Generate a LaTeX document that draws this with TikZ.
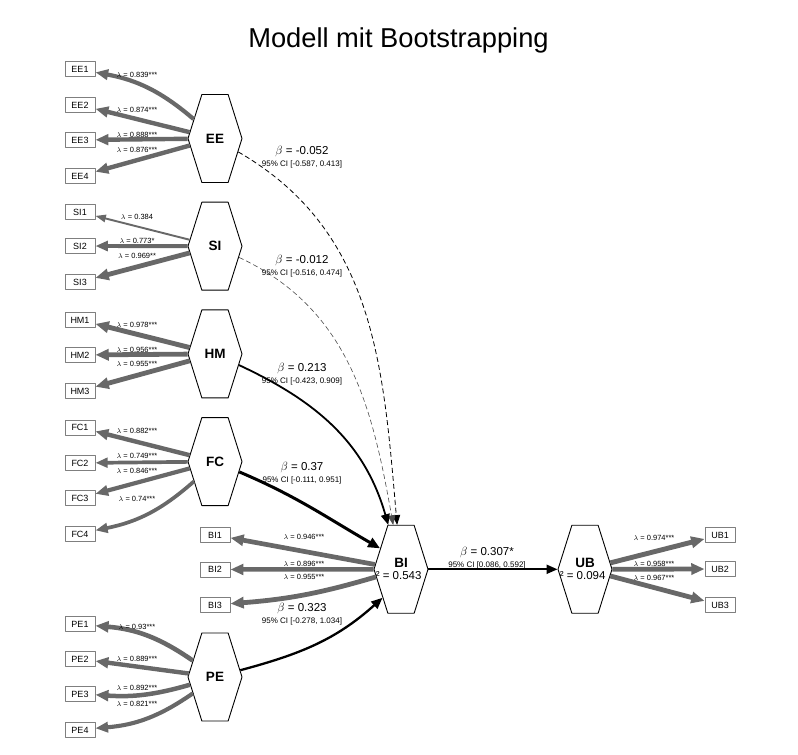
\documentclass[tikz,border=0pt]{standalone}
\usepackage{fontspec}
\setmainfont{Liberation Sans}
\usetikzlibrary{arrows.meta,shapes.symbols}
\definecolor{loadgray}{HTML}{686868}
\definecolor{itemgray}{HTML}{7F7F7F}
\tikzset{
  latent/.style={shape=signal,signal to=east and west,signal pointer angle=145,
    draw,fill=white,line width=0.9pt,minimum width=54pt,minimum height=88pt,
    inner sep=0pt,font=\fontsize{13.5}{15}\selectfont\bfseries},
  endo/.style 2 args={latent,path picture={
    \node[font=\fontsize{13.5}{15}\selectfont\bfseries] at ([yshift=6pt]path picture bounding box.center) {#1};
    \node[font=\fontsize{11.5}{13}\selectfont\mdseries] at ([xshift=-6.5pt,yshift=-6pt]path picture bounding box.center) {R² = #2};}},
  item/.style={draw=itemgray,fill=white,line width=0.9pt,minimum width=30pt,
    minimum height=15pt,inner sep=0pt,font=\fontsize{9}{10}\selectfont},
  loading/.style={draw=loadgray,line width=#1,-{Triangle[length=8.5pt 1,width=5pt 1.25]}},
  effect/.style={line width=#1,-{Triangle[length=9pt 1,width=7pt 1]}},
  lam/.style={font=\fontsize{7.5}{8}\selectfont},
  coef/.style={align=center,font=\fontsize{11.5}{12}\selectfont}
}

\begin{document}
\begin{tikzpicture}[x=1pt,y=1pt,line join=round]
  \useasboundingbox (0,0) rectangle (798,755);
  \node[anchor=base,font=\fontsize{27.3}{30}\selectfont] (title) at (398.5,707) {Modell mit Bootstrapping};

  \node[latent] (EE) at (215,616.5) {EE};
  \node[latent] (SI) at (215,508.8) {SI};
  \node[latent] (HM) at (215,401.1) {HM};
  \node[latent] (FC) at (215,293.4) {FC};
  \node[latent] (PE) at (215,78) {PE};
  \node[endo={BI}{0.543}] (BI) at (401,185.7) {};
  \node[endo={UB}{0.094}] (UB) at (585,185.7) {};

  \node[item] (EE1) at (80,686) {EE1};
  \node[item] (EE2) at (80,650) {EE2};
  \node[item] (EE3) at (80,615) {EE3};
  \node[item] (EE4) at (80,579) {EE4};
  \node[item] (SI1) at (80,543) {SI1};
  \node[item] (SI2) at (80,509) {SI2};
  \node[item] (SI3) at (80,473) {SI3};
  \node[item] (HM1) at (80,435) {HM1};
  \node[item] (HM2) at (80,400) {HM2};
  \node[item] (HM3) at (80,364) {HM3};
  \node[item] (FC1) at (80,327.5) {FC1};
  \node[item] (FC2) at (80,292) {FC2};
  \node[item] (FC3) at (80,257) {FC3};
  \node[item] (FC4) at (80,221) {FC4};
  \node[item] (PE1) at (80,131) {PE1};
  \node[item] (PE2) at (80,96) {PE2};
  \node[item] (PE3) at (80,61) {PE3};
  \node[item] (PE4) at (80,25) {PE4};
  \node[item] (BI1) at (215,220) {BI1};
  \node[item] (BI2) at (215,185.5) {BI2};
  \node[item] (BI3) at (215,150) {BI3};
  \node[item] (UB1) at (720,220) {UB1};
  \node[item] (UB2) at (720,186) {UB2};
  \node[item] (UB3) at (720,150) {UB3};

  \draw[loading=4.2] (EE) to[bend right=15] (EE1);
  \draw[loading=4.4] (EE) -- (EE2);
  \draw[loading=4.4] (EE) -- (EE3);
  \draw[loading=4.4] (EE) -- (EE4);
  \draw[loading=1.9] (SI) -- (SI1);
  \draw[loading=3.9] (SI) -- (SI2);
  \draw[loading=4.8] (SI) -- (SI3);
  \draw[loading=4.9] (HM) -- (HM1);
  \draw[loading=4.8] (HM) -- (HM2);
  \draw[loading=4.8] (HM) -- (HM3);
  \draw[loading=4.4] (FC) -- (FC1);
  \draw[loading=3.7] (FC) -- (FC2);
  \draw[loading=4.2] (FC) -- (FC3);
  \draw[loading=3.7] (FC) to[bend left=15] (FC4);
  \draw[loading=4.6] (PE) to[bend right=15] (PE1);
  \draw[loading=4.4] (PE) -- (PE2);
  \draw[loading=4.5] (PE) to[bend left=10] (PE3);
  \draw[loading=4.1] (PE) to[bend left=15] (PE4);
  \draw[loading=4.7] (BI) -- (BI1);
  \draw[loading=4.5] (BI) -- (BI2);
  \draw[loading=4.8] (BI) to[bend left=6] (BI3);
  \draw[loading=4.9] (UB) -- (UB1);
  \draw[loading=4.8] (UB) -- (UB2);
  \draw[loading=4.8] (UB) -- (UB3);

  \node[lam] (lEE1) at (137,680) {$\lambda$ = 0.839***};
  \node[lam] (lEE2) at (137,645) {$\lambda$ = 0.874***};
  \node[lam] (lEE3) at (137,620) {$\lambda$ = 0.888***};
  \node[lam] (lEE4) at (137,605) {$\lambda$ = 0.876***};
  \node[lam] (lSI1) at (137,538.5) {$\lambda$ = 0.384};
  \node[lam] (lSI2) at (137,514) {$\lambda$ = 0.773*};
  \node[lam] (lSI3) at (137,499) {$\lambda$ = 0.969**};
  \node[lam] (lHM1) at (137,430.5) {$\lambda$ = 0.978***};
  \node[lam] (lHM2) at (137,405.5) {$\lambda$ = 0.956***};
  \node[lam] (lHM3) at (137,391.5) {$\lambda$ = 0.955***};
  \node[lam] (lFC1) at (137,324) {$\lambda$ = 0.882***};
  \node[lam] (lFC2) at (137,299) {$\lambda$ = 0.749***};
  \node[lam] (lFC3) at (137,284.5) {$\lambda$ = 0.846***};
  \node[lam] (lFC4) at (137,256) {$\lambda$ = 0.74***};
  \node[lam] (lPE1) at (137,128.5) {$\lambda$ = 0.93***};
  \node[lam] (lPE2) at (137,96) {$\lambda$ = 0.889***};
  \node[lam] (lPE3) at (137,67) {$\lambda$ = 0.892***};
  \node[lam] (lPE4) at (137,51) {$\lambda$ = 0.821***};
  \node[lam] (lBI1) at (304,218) {$\lambda$ = 0.946***};
  \node[lam] (lBI2) at (304,191.5) {$\lambda$ = 0.896***};
  \node[lam] (lBI3) at (304,178) {$\lambda$ = 0.955***};
  \node[lam] (lUB1) at (654,217.5) {$\lambda$ = 0.974***};
  \node[lam] (lUB2) at (654,191.5) {$\lambda$ = 0.958***};
  \node[lam] (lUB3) at (654,177) {$\lambda$ = 0.967***};

  \draw[effect=0.8,dash pattern=on 5pt off 3pt] (EE) to[out=-30,in=95] (BI);
  \draw[effect=0.6,black!70,dash pattern=on 5pt off 3pt] (SI) to[out=-25,in=100] (BI);
  \draw[effect=1.8] (HM) to[out=-25,in=106] (BI.106);
  \draw[effect=3] (FC) to[out=-23,in=150] (BI.135);
  \draw[effect=2.3] (PE) to[out=15,in=-138] (BI.237);
  \draw[effect=2] (BI) -- (UB);

  \node[coef] (bEE) at (302,597.5) {$\beta$ = -0.052\\{\fontsize{8}{8}\selectfont 95\% CI [-0.587, 0.413]}};
  \node[coef] (bSI) at (302,489) {$\beta$ = -0.012\\{\fontsize{8}{8}\selectfont 95\% CI [-0.516, 0.474]}};
  \node[coef] (bHM) at (302,381) {$\beta$ = 0.213\\{\fontsize{8}{8}\selectfont 95\% CI [-0.423, 0.909]}};
  \node[coef] (bFC) at (302,282) {$\beta$ = 0.37\\{\fontsize{8}{8}\selectfont 95\% CI [-0.111, 0.951]}};
  \node[coef] (bPE) at (302,141) {$\beta$ = 0.323\\{\fontsize{8}{8}\selectfont 95\% CI [-0.278, 1.034]}};
  \node[coef] (bBI) at (487,196.5) {$\beta$ = 0.307*\\{\fontsize{8}{8}\selectfont 95\% CI [0.086, 0.592]}};
\end{tikzpicture}
\end{document}
